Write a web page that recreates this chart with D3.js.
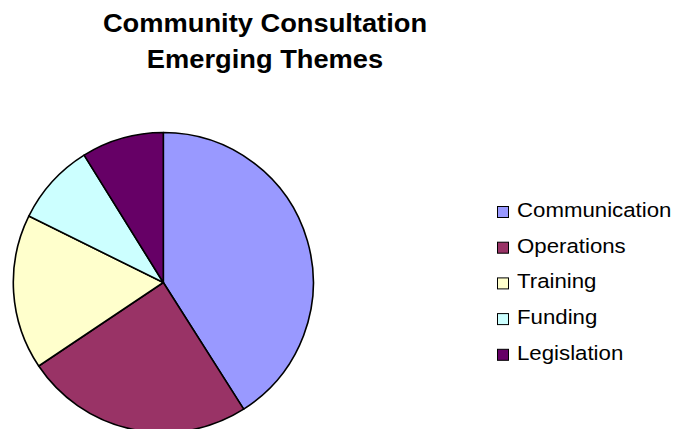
<!DOCTYPE html>
<html>
<head>
<meta charset="utf-8">
<script src="https://cdn.jsdelivr.net/npm/d3@7"></script>
<style>
  html, body { margin: 0; padding: 0; background: #fff; }
  svg { display: block; }
</style>
</head>
<body>
<svg id="chart" width="675" height="429"></svg>
<script>
const categories = ["Communication", "Operations", "Training", "Funding", "Legislation"];
const values = [41, 24.6, 16.7, 8.85, 8.85];
const colors = ["#9999FF", "#993366", "#FFFFCC", "#CCFFFF", "#660066"];
const titleLines = ["Community Consultation", "Emerging Themes"];

const svg = d3.select("#chart");
const font = "Arial, 'Liberation Sans', Helvetica, sans-serif";

// Title (slightly widened glyphs to match reference proportions)
svg.append("g").selectAll("text").data(titleLines).join("text")
  .attr("transform", (d, i) => `translate(265,${31.5 + i * 36.5}) scale(1.07,1)`)
  .attr("text-anchor", "middle")
  .attr("font-family", font)
  .attr("font-weight", "bold")
  .attr("font-size", 25.5)
  .attr("fill", "#000")
  .text(d => d);

// Pie
const data = categories.map((c, i) => ({ name: c, value: values[i] }));
const pie = d3.pie().value(d => d.value).sort(null);
const arc = d3.arc().innerRadius(0).outerRadius(150);
const color = d3.scaleOrdinal().domain(categories).range(colors);

svg.append("g")
  .attr("transform", "translate(163.3,282.5)")
  .selectAll("path").data(pie(data)).join("path")
  .attr("d", arc)
  .attr("fill", d => color(d.data.name))
  .attr("stroke", "#000")
  .attr("stroke-width", 1.6)
  .attr("stroke-linejoin", "round");

// Legend
const legend = svg.append("g").attr("transform", "translate(497,206)");
const rows = legend.selectAll("g").data(categories).join("g")
  .attr("transform", (d, i) => `translate(0,${i * 35.7})`);
rows.append("rect")
  .attr("x", 0.5).attr("y", 0.5)
  .attr("width", 11).attr("height", 11)
  .attr("fill", d => color(d))
  .attr("stroke", "#000")
  .attr("stroke-width", 1);
rows.append("text")
  .attr("transform", "translate(20,11) scale(1.085,1)")
  .attr("font-family", font)
  .attr("font-size", 20.5)
  .attr("fill", "#000")
  .text(d => d);
</script>
</body>
</html>
